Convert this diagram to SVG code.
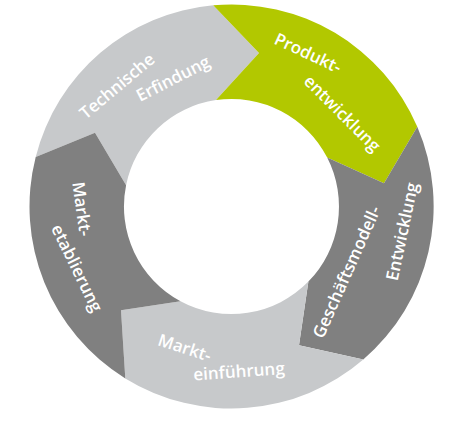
<svg xmlns="http://www.w3.org/2000/svg" width="459" height="434" viewBox="0 0 459 434">
<style>
.light{fill:#c7c9cb}
.dark{fill:#808080}
.green{fill:#b2c800}
text{font-family:"Open Sans","Liberation Sans",sans-serif;font-weight:600;font-size:17px;fill:#ffffff;text-anchor:middle}
</style>
<rect width="459" height="434" fill="#ffffff"/>
<g id="technische-erfindung">
<path class="light" d="M35.7,156.9 A202,202 0 0 1 213.2,5.3 L259,53 L216,100.1 A107.5,107.5 0 0 0 126.1,185.2 L95,132.7 Z"/>
<text transform="translate(117 86) rotate(-40)" y="6">Technische</text>
<text transform="translate(173 78.5) rotate(-27)" y="6">Erfindung</text>
</g>
<g id="produktentwicklung">
<path class="green" d="M213.2,5.3 A202,202 0 0 1 417.3,126.7 L384,183.3 L327.2,157.6 A107.5,107.5 0 0 0 216,100.1 L259,53 Z"/>
<text transform="translate(308 53) rotate(25)" y="6">Produkt-</text>
<text transform="translate(342.3 113.3) rotate(45)" y="6">entwicklung</text>
</g>
<g id="geschaeftsmodell-entwicklung">
<path class="dark" d="M417.3,126.7 A202,202 0 0 1 363.3,359.5 L299,345.3 L308.4,281.6 A107.5,107.5 0 0 0 327.2,157.6 L384,183.3 Z"/>
<text transform="translate(346.5 272) rotate(-66)" y="6">Geschäftsmodell-</text>
<text transform="translate(402 231.5) rotate(-78)" y="6">Entwicklung</text>
</g>
<g id="markteinfuehrung">
<path class="light" d="M363.3,359.5 A202,202 0 0 1 125.3,378.4 L121,310.3 L180.5,301.2 A107.5,107.5 0 0 0 308.4,281.6 L299,345.3 Z"/>
<text transform="translate(184.7 347.7) rotate(18)" y="6">Markt-</text>
<text transform="translate(239 371.3) rotate(-4)" y="6">einführung</text>
</g>
<g id="marktetablierung">
<path class="dark" d="M125.3,378.4 A202,202 0 0 1 35.7,156.9 L95,132.7 L126.1,185.2 A107.5,107.5 0 0 0 180.5,301.2 L121,310.3 Z"/>
<text transform="translate(82 209) rotate(82)" y="6">Markt-</text>
<text transform="translate(77 268) rotate(64)" y="6">etablierung</text>
</g>
<g id="connectors"></g>
</svg>
